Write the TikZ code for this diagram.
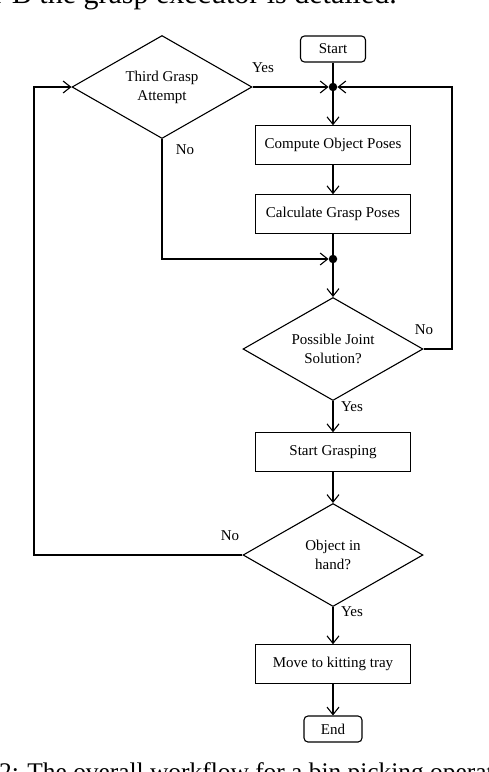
\documentclass[tikz,border=0pt]{standalone}
\usepackage{fontspec}
\setmainfont{Liberation Serif}
\usetikzlibrary{arrows.meta,shapes.geometric}
\begin{document}
\begin{tikzpicture}[x=1pt,y=-1pt,
  every node/.style={font=\fontsize{15}{19}\selectfont},
  ln/.style={line width=1.1pt},
  arr/.style={line width=1.1pt,-{Straight Barb[length=7.5pt,width=12pt]}},
  proc/.style={draw,line width=1.1pt,rectangle,minimum width=155pt,minimum height=38.5pt,inner sep=0pt},
  term/.style={draw,line width=1.1pt,rectangle,rounded corners=4pt,minimum height=26pt,inner sep=0pt},
  decision/.style={draw,line width=1.1pt,diamond,aspect=1.75,minimum width=180pt,minimum height=103pt,inner sep=0pt,align=center},
  junction/.style={circle,fill,inner sep=0pt,minimum size=8.5pt},
  lbl/.style={inner sep=0pt},
  captop/.style={inner sep=0pt,font=\fontsize{30}{36}\selectfont},
  capbot/.style={inner sep=0pt,font=\fontsize{25.4}{30}\selectfont}
]
\useasboundingbox (0,0) rectangle (488,772);
\clip (0,0) rectangle (488,772);

% caption fragments
\node[captop,anchor=base east] (cap1) at (397,3) {In Section II-B the grasp executor is detailed.};
\node[capbot,anchor=base west] (cap2) at (-1,780) {2: The overall workflow for a bin picking operation.};

% nodes
\node[term,minimum width=65pt] (start) at (333,49) {Start};
\node[junction] (j1) at (333,87) {};
\node[proc] (cop) at (333,145) {Compute Object Poses};
\node[proc] (cgp) at (333,214) {Calculate Grasp Poses};
\node[junction] (j2) at (333,259) {};
\node[decision] (tga) at (162,87) {Third Grasp\\Attempt};
\node[decision] (pjs) at (333,349) {Possible Joint\\Solution?};
\node[proc] (sg) at (333,452) {Start Grasping};
\node[decision] (oih) at (333,555) {Object in\\hand?};
\node[proc] (mkt) at (333,664) {Move to kitting tray};
\node[term,minimum width=58pt] (end) at (333,729) {End};

\coordinate (rx) at (452,0);
\coordinate (lx) at (34,0);

% connectors
\draw[ln] (start) -- (j1);
\draw[arr] (tga.east) -- (j1);
\draw[arr] (pjs.east) -- (pjs.east -| rx) |- (j1);
\draw[arr] (j1) -- (cop);
\draw[arr] (cop) -- (cgp);
\draw[ln] (cgp) -- (j2);
\draw[arr] (tga.south) |- (j2);
\draw[arr] (j2) -- (pjs.north);
\draw[arr] (pjs.south) -- (sg);
\draw[arr] (sg) -- (oih.north);
\draw[arr] (oih.west) -- (oih.west -| lx) |- (tga.west);
\draw[arr] (oih.south) -- (mkt);
\draw[arr] (mkt) -- (end);

% labels
\node[lbl] (l1) at (263,68) {Yes};
\node[lbl] (l2) at (185,150) {No};
\node[lbl] (l3) at (424,330) {No};
\node[lbl] (l4) at (352,407) {Yes};
\node[lbl] (l5) at (230,536) {No};
\node[lbl] (l6) at (352,612) {Yes};
\end{tikzpicture}
\end{document}
